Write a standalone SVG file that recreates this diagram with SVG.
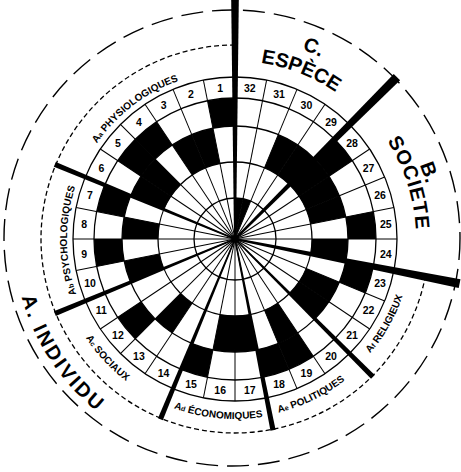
<svg xmlns="http://www.w3.org/2000/svg" xmlns:xlink="http://www.w3.org/1999/xlink" width="461" height="472" viewBox="0 0 461 472">
<style>
.ln{fill:none;stroke:#000;stroke-width:1.3}
.sp{stroke:#000;stroke-width:1}
.dO{fill:none;stroke:#000;stroke-width:1.4;stroke-dasharray:22 9}
.dI{fill:none;stroke:#000;stroke-width:1.3;stroke-dasharray:5 3}
.bk{fill:#000}
.num{font-family:"Liberation Sans",Arial,sans-serif;font-weight:bold;font-size:10.5px;text-anchor:middle;dominant-baseline:central;fill:#000}
.sub{font-family:"Liberation Sans",Arial,sans-serif;font-weight:bold;font-size:10px;fill:#000}
.cat{font-family:"Liberation Sans",Arial,sans-serif;font-weight:bold;font-size:20px;fill:#000}
</style>
<defs>
<path id="c1" d="M235,98 A141,141 0 0 0 207.49,100.71 L212.95,128.17 A113,113 0 0 1 235,126 Z"/>
<path id="c2" d="M235,126 A113,113 0 0 0 212.95,128.17 L219.98,163.48 A77,77 0 0 1 235,162 Z"/>
<path id="c3" d="M235,162 A77,77 0 0 0 219.98,163.48 L227,198.79 A41,41 0 0 1 235,198 Z"/>
<path id="c4" d="M235,198 A41,41 0 0 0 227,198.79 L235,239 Z"/>
<line id="sp" x1="235" y1="77" x2="235" y2="401"/>
<polygon id="barC" points="234,239 236,239 238.8,0 231.2,0"/>
<polygon id="barB" points="234,239 236,239 239.5,10 230.5,10"/>
<polygon id="barS" points="234.3,239 235.7,239 237.6,44 232.4,44"/>
<path id="pAa" d="M68.44,217.07 A168,168 0 0 1 256.93,72.44"/>
<path id="pAb" d="M117.25,358.83 A168,168 0 0 1 115.17,121.25"/>
<path id="pAc" d="M56.11,232.75 A179,179 0 0 0 228.75,417.89"/>
<path id="pAd" d="M96.11,353.49 A180,180 0 0 0 349.49,377.89"/>
<path id="pAe" d="M176.72,408.25 A179,179 0 0 0 404.25,297.28"/>
<path id="pAf" d="M282.30,409.56 A177,177 0 0 0 405.56,191.70"/>
<path id="pA" d="M18.44,194.94 A221,221 0 0 0 190.94,455.56"/>
<path id="pE" d="M163.74,75.89 A178,178 0 0 1 398.11,167.74"/>
<path id="pC" d="M151.65,56.10 A201,201 0 0 1 417.90,155.65"/>
<path id="pS" d="M317.72,78.01 A181,181 0 0 1 395.99,321.72"/>
<path id="pB" d="M322.24,60.14 A199,199 0 0 1 413.86,326.24"/>
</defs>
<rect width="461" height="472" fill="#fff"/>

<g id="cells" class="bk">
<use href="#c1" transform="rotate(0 235 239)"/>
<use href="#c1" transform="rotate(-33.75 235 239)"/>
<use href="#c1" transform="rotate(-45 235 239)"/>
<use href="#c1" transform="rotate(-67.5 235 239)"/>
<use href="#c1" transform="rotate(-90 235 239)"/>
<use href="#c1" transform="rotate(-123.75 235 239)"/>
<use href="#c1" transform="rotate(-157.5 235 239)"/>
<use href="#c1" transform="rotate(168.75 235 239)"/>
<use href="#c1" transform="rotate(157.5 235 239)"/>
<use href="#c1" transform="rotate(112.5 235 239)"/>
<use href="#c1" transform="rotate(90 235 239)"/>
<use href="#c1" transform="rotate(56.25 235 239)"/>
<use href="#c2" transform="rotate(-11.25 235 239)"/>
<use href="#c2" transform="rotate(-22.5 235 239)"/>
<use href="#c2" transform="rotate(-45 235 239)"/>
<use href="#c2" transform="rotate(-56.25 235 239)"/>
<use href="#c2" transform="rotate(-78.75 235 239)"/>
<use href="#c2" transform="rotate(-101.25 235 239)"/>
<use href="#c2" transform="rotate(-135 235 239)"/>
<use href="#c2" transform="rotate(-168.75 235 239)"/>
<use href="#c2" transform="rotate(-180 235 239)"/>
<use href="#c2" transform="rotate(157.5 235 239)"/>
<use href="#c2" transform="rotate(135 235 239)"/>
<use href="#c2" transform="rotate(123.75 235 239)"/>
<use href="#c2" transform="rotate(101.25 235 239)"/>
<use href="#c2" transform="rotate(78.75 235 239)"/>
<use href="#c2" transform="rotate(67.5 235 239)"/>
<use href="#c2" transform="rotate(56.25 235 239)"/>
<use href="#c2" transform="rotate(45 235 239)"/>
<use href="#c2" transform="rotate(33.75 235 239)"/>
<use href="#c4" transform="rotate(22.5 235 239)"/>
<use href="#c4" transform="rotate(11.25 235 239)"/>
</g>

<g id="grid">
<circle class="ln" cx="235" cy="239" r="162"/>
<circle class="ln" cx="235" cy="239" r="141"/>
<circle class="ln" cx="235" cy="239" r="113"/>
<circle class="ln" cx="235" cy="239" r="77"/>
<circle class="ln" cx="235" cy="239" r="41"/>
<g class="sp">
<use href="#sp"/>
<use href="#sp" transform="rotate(11.25 235 239)"/>
<use href="#sp" transform="rotate(22.5 235 239)"/>
<use href="#sp" transform="rotate(33.75 235 239)"/>
<use href="#sp" transform="rotate(45 235 239)"/>
<use href="#sp" transform="rotate(56.25 235 239)"/>
<use href="#sp" transform="rotate(67.5 235 239)"/>
<use href="#sp" transform="rotate(78.75 235 239)"/>
<use href="#sp" transform="rotate(90 235 239)"/>
<use href="#sp" transform="rotate(101.25 235 239)"/>
<use href="#sp" transform="rotate(112.5 235 239)"/>
<use href="#sp" transform="rotate(123.75 235 239)"/>
<use href="#sp" transform="rotate(135 235 239)"/>
<use href="#sp" transform="rotate(146.25 235 239)"/>
<use href="#sp" transform="rotate(157.5 235 239)"/>
<use href="#sp" transform="rotate(168.75 235 239)"/>
</g>
<circle cx="235" cy="239" r="3.5" class="bk"/>
</g>

<g id="dashed">
<circle class="dO" cx="232" cy="238" r="228"/>
<path class="dI" d="M235,45 A194,194 0 1 0 425.27,276.85"/>
</g>

<g id="bars" class="bk">
<use href="#barC"/>
<use href="#barB" transform="rotate(45 235 239)"/>
<use href="#barB" transform="rotate(101.25 235 239)"/>
<use href="#barS" transform="rotate(-67.5 235 239)"/>
<use href="#barS" transform="rotate(-112.5 235 239)"/>
<use href="#barS" transform="rotate(-157.5 235 239)"/>
<use href="#barS" transform="rotate(168.75 235 239)"/>
<use href="#barS" transform="rotate(135 235 239)"/>
</g>

<g id="numbers" class="num">
<text x="220.2" y="88.2">1</text>
<text x="191.0" y="94.0">2</text>
<text x="163.6" y="105.4">3</text>
<text x="138.9" y="121.9">4</text>
<text x="117.9" y="142.9">5</text>
<text x="101.4" y="167.6">6</text>
<text x="90.0" y="195.0">7</text>
<text x="84.2" y="224.2">8</text>
<text x="84.2" y="253.8">9</text>
<text x="90.0" y="283.0">10</text>
<text x="101.4" y="310.4">11</text>
<text x="117.9" y="335.1">12</text>
<text x="138.9" y="356.1">13</text>
<text x="163.6" y="372.6">14</text>
<text x="191.0" y="384.0">15</text>
<text x="220.2" y="389.8">16</text>
<text x="249.8" y="389.8">17</text>
<text x="279.0" y="384.0">18</text>
<text x="306.4" y="372.6">19</text>
<text x="331.1" y="356.1">20</text>
<text x="352.1" y="335.1">21</text>
<text x="368.6" y="310.4">22</text>
<text x="380.0" y="283.0">23</text>
<text x="385.8" y="253.8">24</text>
<text x="385.8" y="224.2">25</text>
<text x="380.0" y="195.0">26</text>
<text x="368.6" y="167.6">27</text>
<text x="352.1" y="142.9">28</text>
<text x="331.1" y="121.9">29</text>
<text x="306.4" y="105.4">30</text>
<text x="279.0" y="94.0">31</text>
<text x="249.8" y="88.2">32</text>
</g>

<g id="sublabels" class="sub">
<text><textPath href="#pAa" startOffset="50%" text-anchor="middle">A<tspan font-size="7">a</tspan> PHYSIOLOGIQUES</textPath></text>
<text><textPath href="#pAb" startOffset="50%" text-anchor="middle">A<tspan font-size="7">b</tspan> PSYCHOLOGIQUES</textPath></text>
<text><textPath href="#pAc" startOffset="50%" text-anchor="middle">A<tspan font-size="7">c</tspan> SOCIAUX</textPath></text>
<text><textPath href="#pAd" startOffset="50%" text-anchor="middle">A<tspan font-size="7">d</tspan> ÉCONOMIQUES</textPath></text>
<text><textPath href="#pAe" startOffset="50%" text-anchor="middle">A<tspan font-size="7">e</tspan> POLITIQUES</textPath></text>
<text><textPath href="#pAf" startOffset="50%" text-anchor="middle">A<tspan font-size="7">f</tspan> RELIGIEUX</textPath></text>
</g>

<g id="categories" class="cat">
<text letter-spacing="2.5"><textPath href="#pA" startOffset="50%" text-anchor="middle">A. INDIVIDU</textPath></text>
<text><textPath href="#pE" startOffset="50%" text-anchor="middle">ESPÈCE</textPath></text>
<text><textPath href="#pC" startOffset="52%" text-anchor="middle">C.</textPath></text>
<text letter-spacing="1"><textPath href="#pS" startOffset="50%" text-anchor="middle">SOCIETE</textPath></text>
<text><textPath href="#pB" startOffset="50%" text-anchor="middle">B.</textPath></text>
</g>
</svg>
